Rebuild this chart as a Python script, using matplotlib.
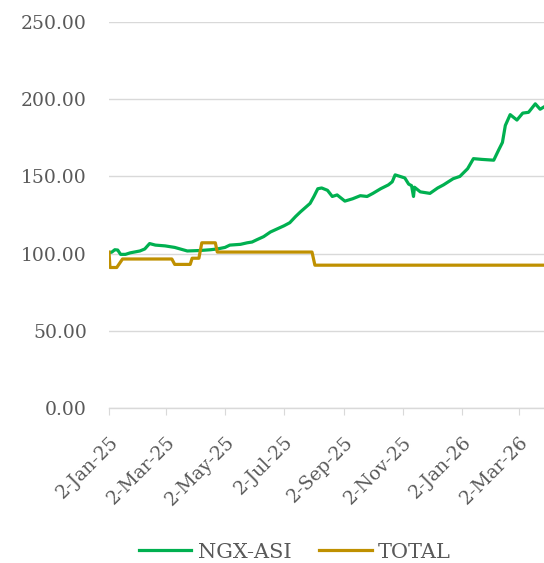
import matplotlib
matplotlib.use("Agg")
import matplotlib.pyplot as plt
import matplotlib.dates as mdates
import pandas as pd

# NGX-ASI index (rebased to 100)
asi_dates = [
    "2025-01-02", "2025-01-05", "2025-01-08", "2025-01-11", "2025-01-14", "2025-01-19",
    "2025-01-24", "2025-02-03", "2025-02-08", "2025-02-13", "2025-02-19", "2025-03-01",
    "2025-03-11", "2025-03-24", "2025-04-06", "2025-04-17", "2025-04-24", "2025-05-02",
    "2025-05-07", "2025-05-18", "2025-05-25", "2025-05-30", "2025-06-04", "2025-06-11",
    "2025-06-18", "2025-06-25", "2025-07-02", "2025-07-08", "2025-07-14", "2025-07-19",
    "2025-07-29", "2025-08-02", "2025-08-06", "2025-08-10", "2025-08-16", "2025-08-21",
    "2025-08-26", "2025-09-03", "2025-09-11", "2025-09-19", "2025-09-26", "2025-10-02",
    "2025-10-10", "2025-10-18", "2025-10-22", "2025-10-25", "2025-10-30", "2025-11-04",
    "2025-11-08", "2025-11-11", "2025-11-13", "2025-11-14", "2025-11-20", "2025-11-30",
    "2025-12-08", "2025-12-14", "2025-12-24", "2025-12-31", "2026-01-08", "2026-01-14",
    "2026-01-23", "2026-02-04", "2026-02-09", "2026-02-13", "2026-02-16", "2026-02-21",
    "2026-02-28", "2026-03-06", "2026-03-12", "2026-03-19", "2026-03-24", "2026-03-28",
]
asi_values = [
    100.5, 101.0, 102.5, 102.3, 99.5, 99.5,
    100.5, 101.7, 103.0, 106.5, 105.5, 105.0,
    104.0, 101.7, 102.0, 102.5, 103.0, 104.0,
    105.5, 106.0, 107.0, 107.5, 109.0, 111.0,
    114.0, 116.0, 118.0, 120.0, 124.0, 127.0,
    132.5, 137.0, 142.0, 142.5, 141.0, 137.0,
    138.0, 134.0, 135.5, 137.5, 137.0, 139.0,
    142.0, 144.5, 146.5, 151.0, 150.0, 149.0,
    145.0, 144.0, 137.0, 143.0, 140.0, 139.0,
    142.5, 144.5, 148.5, 150.0, 155.0, 161.5,
    161.0, 160.5, 167.0, 172.0, 183.0, 190.0,
    186.5, 191.0, 191.5, 197.0, 193.5, 195.0,
]

# TOTAL series (rebased to 100)
total_dates = [
    "2025-01-02", "2025-01-03", "2025-01-10", "2025-01-16", "2025-03-08", "2025-03-11",
    "2025-03-27", "2025-03-29", "2025-04-05", "2025-04-08", "2025-04-22", "2025-04-24",
    "2025-07-31", "2025-08-03", "2026-03-28",
]
total_values = [
    101.0, 91.0, 91.0, 96.5, 96.5, 93.0,
    93.0, 97.0, 97.0, 107.0, 107.0, 101.0,
    101.0, 92.5, 92.5,
]

tick_dates = ["2025-01-02", "2025-03-02", "2025-05-02", "2025-07-02", "2025-09-02",
              "2025-11-02", "2026-01-02", "2026-03-02"]
y_ticks = [0, 50, 100, 150, 200, 250]

plt.rcParams['font.family'] = ['DejaVu Serif']
text_col = "#595959"
grid_col = "#d9d9d9"

fig = plt.figure(figsize=(5.44, 5.63), dpi=100)
ax = fig.add_axes([109 / 544, 1 - 408 / 563, 1 - 109 / 544, (408 - 22) / 563])

ax.plot(pd.to_datetime(asi_dates), asi_values, color="#00b050", lw=2.3, label="NGX-ASI", zorder=3)
ax.plot(pd.to_datetime(total_dates), total_values, color="#bf9000", lw=2.3, label="TOTAL", zorder=3)

ax.set_ylim(0, 250)
ax.set_xlim(pd.Timestamp("2025-01-02"), pd.Timestamp("2026-03-28"))
ax.set_yticks(y_ticks)
ax.set_yticklabels([f"{v:.2f}" for v in y_ticks])
ax.set_xticks(pd.to_datetime(tick_dates))
ax.xaxis.set_major_formatter(mdates.DateFormatter("%-d-%b-%y"))

ax.grid(axis="y", color=grid_col, lw=1.0)
ax.set_axisbelow(True)
for s in ["top", "right", "left"]:
    ax.spines[s].set_visible(False)
ax.spines["bottom"].set_color(grid_col)
ax.spines["bottom"].set_linewidth(1.0)

ax.tick_params(axis="y", length=0, pad=16, labelsize=13.5, labelcolor=text_col)
ax.tick_params(axis="x", length=5, color=grid_col, pad=13, labelsize=13.5, labelcolor=text_col)
for lbl in ax.get_xticklabels():
    lbl.set_rotation(45)
    lbl.set_ha("right")
    lbl.set_rotation_mode("anchor")

fig.legend(loc="center", bbox_to_anchor=(295 / 544, 1 - 552 / 563), ncol=2, frameon=False,
           fontsize=15, labelcolor=text_col, handlelength=2.5, columnspacing=1.35,
           handletextpad=0.3)

fig.savefig("out.png", dpi=100)
